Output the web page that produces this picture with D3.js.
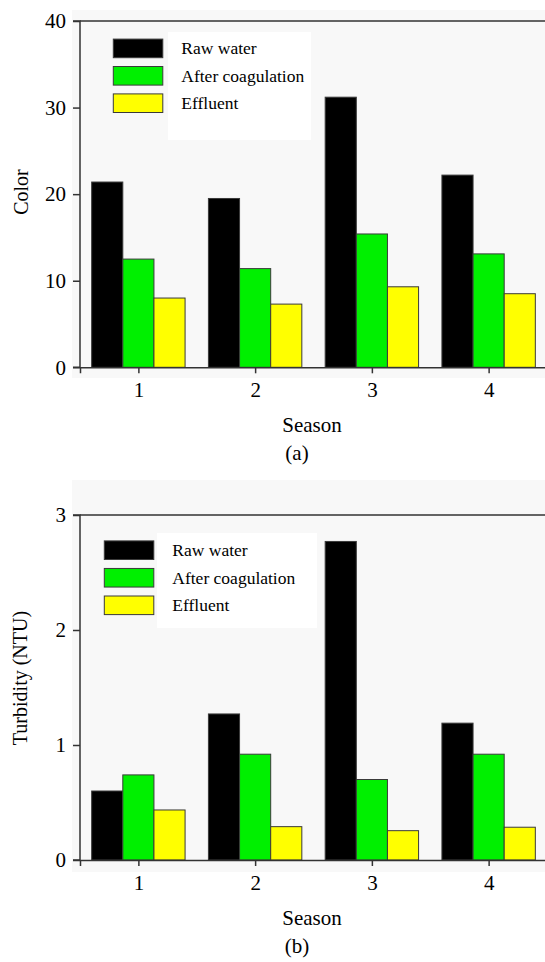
<!DOCTYPE html>
<html>
<head>
<meta charset="utf-8">
<script src="https://cdn.jsdelivr.net/npm/d3@7"></script>
<style>
  html, body { margin: 0; padding: 0; background: #ffffff; }
  svg { display: block; font-family: "Liberation Serif", "Times New Roman", serif; }
</style>
</head>
<body>
<svg id="chart" width="545" height="962"></svg>
<script>
// Seasons on the x axis
const seasons = [1, 2, 3, 4];
// Series names, in legend order
const seriesNames = ["Raw water", "After coagulation", "Effluent"];
const seriesColors = ["#000000", "#00f000", "#ffff00"];

// (a) Color
const colorRaw = [21.4, 19.5, 31.2, 22.2];
const colorCoag = [12.5, 11.4, 15.4, 13.1];
const colorEff = [8.0, 7.3, 9.3, 8.5];
const colorTicks = [0, 10, 20, 30, 40];

// (b) Turbidity (NTU)
const turbRaw = [0.60, 1.27, 2.77, 1.19];
const turbCoag = [0.74, 0.92, 0.70, 0.92];
const turbEff = [0.435, 0.29, 0.255, 0.285];
const turbTicks = [0, 1, 2, 3];

const svg = d3.select("#chart");

function panel(opts) {
  const g = svg.append("g");
  const left = 80, right = 547;
  const x = d3.scaleLinear().domain([0.5, 4.5]).range([left, right]);
  const y = d3.scaleLinear().domain(opts.domain).range([opts.bottom, opts.top]);
  const step = x(2) - x(1);
  const sub = d3.scaleBand().domain(seriesNames).range([-0.4 * step, 0.4 * step]);

  // faint plot background
  g.append("rect")
    .attr("x", left - 8).attr("y", opts.bgTop)
    .attr("width", 545 - left + 8).attr("height", opts.bgBottom - opts.bgTop)
    .attr("fill", "#f8f8f8");

  // legend panel backdrop
  g.append("rect")
    .attr("x", opts.legBg[0]).attr("y", opts.legBg[1])
    .attr("width", opts.legBg[2]).attr("height", opts.legBg[3])
    .attr("fill", "#ffffff");

  // bars
  const rows = [];
  seasons.forEach((s, i) => {
    opts.series.forEach((vals, k) => rows.push({ s, k, v: vals[i] }));
  });
  g.selectAll("rect.bar").data(rows).join("rect")
    .attr("class", "bar")
    .attr("x", d => x(d.s) + sub(seriesNames[d.k]))
    .attr("width", sub.bandwidth())
    .attr("y", d => y(d.v))
    .attr("height", d => y(0) - y(d.v))
    .attr("fill", d => seriesColors[d.k])
    .attr("stroke", "#3a3a3a")
    .attr("stroke-width", 1);

  // top frame line
  g.append("line")
    .attr("x1", left).attr("x2", right)
    .attr("y1", y(opts.domain[1])).attr("y2", y(opts.domain[1]))
    .attr("stroke", "#333").attr("stroke-width", 1.5);

  // axes
  const yAxis = d3.axisLeft(y).tickValues(opts.ticks).tickSize(7).tickPadding(7).tickFormat(d3.format("d"));
  const xAxis = d3.axisBottom(x).tickValues(seasons).tickSize(6).tickPadding(9).tickFormat(d3.format("d"));

  const ya = g.append("g").attr("transform", `translate(${left},0)`).call(yAxis);
  const xa = g.append("g").attr("transform", `translate(0,${y(0)})`).call(xAxis);
  [ya, xa].forEach(a => {
    a.select(".domain").attr("stroke", "#333").attr("stroke-width", 1.5);
    a.selectAll(".tick line").attr("stroke", "#333").attr("stroke-width", 1.5);
    a.selectAll(".tick text").attr("fill", "#000").style("font-size", "21px")
      .style("font-family", '"Liberation Serif", serif');
  });
  ya.select(".domain").attr("d", `M-7,${y(opts.domain[1])}H0V${y(0)}H-7`);

  // axis titles
  g.append("text")
    .attr("x", 312).attr("y", y(0) + 65)
    .attr("text-anchor", "middle").attr("fill", "#000")
    .style("font-size", "21px").text("Season");
  g.append("text")
    .attr("x", 297).attr("y", y(0) + 93)
    .attr("text-anchor", "middle").attr("fill", "#000")
    .style("font-size", "21px").text(opts.tag);
  g.append("text")
    .attr("transform", `translate(${opts.yLabX},${opts.yLabY}) rotate(-90)`)
    .attr("text-anchor", "middle").attr("fill", "#000")
    .style("font-size", "20px").text(opts.yLabel);

  // legend
  const leg = g.append("g");
  seriesNames.forEach((name, k) => {
    const cy = opts.legY + k * opts.legStep;
    leg.append("rect")
      .attr("x", opts.legX).attr("y", cy - 9.3)
      .attr("width", 49.5).attr("height", 18.6)
      .attr("fill", seriesColors[k])
      .attr("stroke", "#3a3a3a").attr("stroke-width", 1);
    leg.append("text")
      .attr("x", opts.legX + 68).attr("y", cy + 6)
      .attr("fill", "#000").style("font-size", "17.5px").text(name);
  });
}

panel({
  series: [colorRaw, colorCoag, colorEff],
  domain: [0, 40], ticks: colorTicks,
  top: 21, bottom: 367.3,
  bgTop: 10, bgBottom: 378,
  legBg: [168, 32, 143, 108],
  legX: 113.3, legY: 48.4, legStep: 27.4,
  tag: "(a)",
  yLabel: "Color", yLabX: 28, yLabY: 192
});

panel({
  series: [turbRaw, turbCoag, turbEff],
  domain: [0, 3], ticks: turbTicks,
  top: 515, bottom: 860,
  bgTop: 480, bgBottom: 872,
  legBg: [157, 533, 160, 95],
  legX: 104.3, legY: 550.2, legStep: 27.55,
  tag: "(b)",
  yLabel: "Turbidity (NTU)", yLabX: 27, yLabY: 678
});
</script>
</body>
</html>
